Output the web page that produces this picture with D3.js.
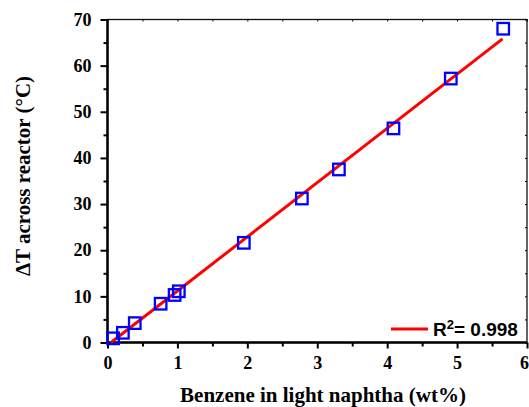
<!DOCTYPE html>
<html>
<head>
<meta charset="utf-8">
<script src="https://cdn.jsdelivr.net/npm/d3@7"></script>
<style>
  body { margin: 0; background: #fff; }
  svg { display: block; }
</style>
</head>
<body>
<div id="chart"></div>
<script>
// data
var benzene = [0.08, 0.22, 0.39, 0.76, 0.96, 1.02, 1.95, 2.78, 3.31, 4.09, 4.91, 5.66];
var deltaT  = [0.9, 2.1, 4.2, 8.4, 10.3, 11.1, 21.6, 31.2, 37.5, 46.4, 57.2, 68.0];
var fitX = [0.05, 5.65];
var fitY = [0.0, 65.8];
var xTicks = [0, 1, 2, 3, 4, 5, 6];
var yTicks = [0, 10, 20, 30, 40, 50, 60, 70];
var xMinor = [0.5, 1.5, 2.5, 3.5, 4.5, 5.5];
var yMinor = [5, 15, 25, 35, 45, 55, 65];
var legendLabel = "R";

var svgWidth = 529, svgHeight = 407;

var svg = d3.select("#chart").append("svg")
  .attr("width", svgWidth)
  .attr("height", svgHeight);

var x = d3.scaleLinear().domain([0, 6]).range([107.5, 527]);
var y = d3.scaleLinear().domain([0, 70]).range([342.5, 19.5]);

var serif = "'Liberation Serif', 'Times New Roman', serif";

// frame
svg.append("rect")
  .attr("x", x(0)).attr("y", y(70))
  .attr("width", x(6) - x(0)).attr("height", y(0) - y(70))
  .attr("fill", "none").attr("stroke", "#111").attr("stroke-width", 1.3);

function styleAxis(g, w) {
  g.attr("font-family", null).attr("font-size", null);
  g.select(".domain").remove();
  g.selectAll(".tick line").attr("stroke", "#000").attr("stroke-width", w);
  g.selectAll(".tick text")
    .style("font-family", serif).style("font-weight", "bold")
    .style("font-size", "18px").attr("fill", "#000");
}

// bottom axis
svg.append("g").attr("transform", "translate(0," + y(0) + ")")
  .call(d3.axisBottom(x).tickValues(xTicks).tickSize(6).tickPadding(8).tickFormat(d3.format("d")))
  .call(styleAxis, 2)
  .selectAll(".tick text").filter(function(d) { return d === 6; }).attr("dx", -3);
svg.append("g").attr("transform", "translate(0," + y(0) + ")")
  .call(d3.axisBottom(x).tickValues(xMinor).tickSize(4).tickFormat(""))
  .call(styleAxis, 2);

// left axis
svg.append("g").attr("transform", "translate(" + x(0) + ",0)")
  .call(d3.axisLeft(y).tickValues(yTicks).tickSize(7).tickPadding(9).tickFormat(d3.format("d")))
  .call(styleAxis, 2);
svg.append("g").attr("transform", "translate(" + x(0) + ",0)")
  .call(d3.axisLeft(y).tickValues(yMinor).tickSize(4).tickFormat(""))
  .call(styleAxis, 2);

// top and right axes, tiny inward ticks
svg.append("g").attr("transform", "translate(0," + y(70) + ")")
  .call(d3.axisBottom(x).tickValues(xTicks.concat(xMinor)).tickSize(2).tickFormat(""))
  .call(styleAxis, 1);
svg.append("g").attr("transform", "translate(" + x(6) + ",0)")
  .call(d3.axisLeft(y).tickValues(yTicks.concat(yMinor)).tickSize(2).tickFormat(""))
  .call(styleAxis, 1);

// thick bottom and left axis lines
svg.append("line")
  .attr("x1", x(0)).attr("x2", x(6)).attr("y1", y(0)).attr("y2", y(0))
  .attr("stroke", "#000").attr("stroke-width", 2.5);
svg.append("line")
  .attr("x1", x(0)).attr("x2", x(0)).attr("y1", y(0) + 1).attr("y2", y(70))
  .attr("stroke", "#000").attr("stroke-width", 2.5);

// fit line
var line = d3.line().x(function(d) { return x(d[0]); }).y(function(d) { return y(d[1]); });
svg.append("path")
  .datum(d3.zip(fitX, fitY))
  .attr("d", line)
  .attr("fill", "none").attr("stroke", "#ff0000").attr("stroke-width", 3);

// points
var sq = 11.5;
svg.append("g").selectAll("rect")
  .data(d3.zip(benzene, deltaT))
  .enter().append("rect")
  .attr("x", function(d) { return x(d[0]) - sq / 2; })
  .attr("y", function(d) { return y(d[1]) - sq / 2; })
  .attr("width", sq).attr("height", sq)
  .attr("fill", "none").attr("stroke", "#0000ff").attr("stroke-width", 2.3);

// legend
svg.append("line")
  .attr("x1", 391).attr("x2", 428).attr("y1", 329).attr("y2", 329)
  .attr("stroke", "#ff0000").attr("stroke-width", 3);
var lt = svg.append("text")
  .attr("x", 433).attr("y", 336)
  .attr("font-family", "'Liberation Sans', Arial, sans-serif")
  .attr("font-weight", "bold").attr("font-size", 19).attr("fill", "#000");
lt.append("tspan").text(legendLabel);
lt.append("tspan").attr("dy", -7).attr("font-size", 13).text("2");
lt.append("tspan").attr("dy", 7).text("= 0.998");

// axis titles
svg.append("text")
  .attr("x", 323).attr("y", 402)
  .attr("text-anchor", "middle")
  .attr("font-family", serif).attr("font-weight", "bold").attr("font-size", 21)
  .text("Benzene in light naphtha (wt%)");

svg.append("text")
  .attr("transform", "translate(30,176) rotate(-90)")
  .attr("text-anchor", "middle")
  .attr("font-family", serif).attr("font-weight", "bold").attr("font-size", 21)
  .text("\u0394T across reactor (\u00b0C)");
</script>
</body>
</html>
